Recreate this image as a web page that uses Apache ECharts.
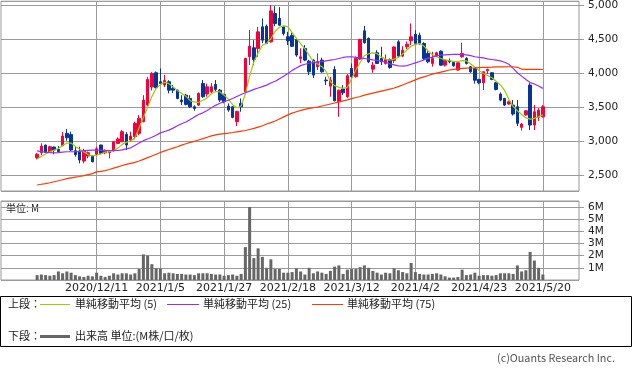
<!DOCTYPE html>
<html><head><meta charset="utf-8">
<script src="https://cdn.jsdelivr.net/npm/echarts@6/dist/echarts.min.js"></script>
<style>html,body{margin:0;padding:0;background:#fff;}#c{width:633px;height:372px;}</style>
</head><body><div id="c"></div>
<script>
const dates = ['2020/11/20','2020/11/24','2020/11/25','2020/11/26','2020/11/27','2020/11/30','2020/12/1','2020/12/2','2020/12/3','2020/12/4','2020/12/7','2020/12/8','2020/12/9','2020/12/10','2020/12/11','2020/12/14','2020/12/15','2020/12/16','2020/12/17','2020/12/18','2020/12/21','2020/12/22','2020/12/23','2020/12/24','2020/12/25','2020/12/28','2020/12/29','2020/12/30','2021/1/4','2021/1/5','2021/1/6','2021/1/7','2021/1/8','2021/1/12','2021/1/13','2021/1/14','2021/1/15','2021/1/18','2021/1/19','2021/1/20','2021/1/21','2021/1/22','2021/1/25','2021/1/26','2021/1/27','2021/1/28','2021/1/29','2021/2/1','2021/2/2','2021/2/3','2021/2/4','2021/2/5','2021/2/8','2021/2/9','2021/2/10','2021/2/12','2021/2/15','2021/2/16','2021/2/17','2021/2/18','2021/2/19','2021/2/22','2021/2/24','2021/2/25','2021/2/26','2021/3/1','2021/3/2','2021/3/3','2021/3/4','2021/3/5','2021/3/8','2021/3/9','2021/3/10','2021/3/11','2021/3/12','2021/3/15','2021/3/16','2021/3/17','2021/3/18','2021/3/19','2021/3/22','2021/3/23','2021/3/24','2021/3/25','2021/3/26','2021/3/29','2021/3/30','2021/3/31','2021/4/1','2021/4/2','2021/4/5','2021/4/6','2021/4/7','2021/4/8','2021/4/9','2021/4/12','2021/4/13','2021/4/14','2021/4/15','2021/4/16','2021/4/19','2021/4/20','2021/4/21','2021/4/22','2021/4/23','2021/4/26','2021/4/27','2021/4/28','2021/4/30','2021/5/6','2021/5/7','2021/5/10','2021/5/11','2021/5/12','2021/5/13','2021/5/14','2021/5/17','2021/5/18','2021/5/19','2021/5/20'];

const tickDates = ['2020/12/11','2021/1/5','2021/1/27','2021/2/18','2021/3/12','2021/4/2','2021/4/23','2021/5/20'];

const openP = [2760,2832,2946,2838,2916,2880,2935,3118,3099,2862,
 2857,2710,2784,2784,2809,2946,2832,2832,2862,2970,
 2994,3103,3019,3069,3118,3289,3534,3800,4010,3877,
 3830,3877,3779,3754,3608,3680,3632,3509,3534,3853,
 3696,3730,3838,3754,3691,3519,3509,3289,3559,3730,
 4245,4377,4368,4686,4696,4466,4882,4809,4686,4539,
 4560,4500,4221,4368,4181,4196,4098,4196,3902,3813,
 4059,3583,3769,3657,4074,3951,4211,4627,4515,4063,
 4304,4221,4147,4206,4190,4465,4255,4392,4480,4578,
 4563,4441,4294,4147,4255,4328,4122,4190,4162,4049,
 4245,4221,4098,4074,3912,3862,4039,4010,3862,3696,
 3632,3549,3534,3509,3206,3387,3828,3240,3353,3362];

const closeP = [2810,2931,2838,2921,2872,2850,3078,3053,2872,2803,
 2725,2857,2832,2700,2891,2823,2862,2857,2994,3034,
 3142,2946,3078,3265,3338,3608,3912,4000,3790,3853,
 3895,3754,3754,3632,3583,3544,3509,3485,3706,3657,
 3804,3804,3765,3608,3583,3460,3353,3441,3509,4221,
 4402,4206,4612,4490,4441,4921,4735,4710,4588,4480,
 4400,4270,4245,4196,4024,3975,4171,4024,3892,3902,
 3597,3754,3715,3966,3951,4221,4500,4451,4171,4122,
 4147,4171,4206,4088,4390,4255,4343,4431,4539,4441,
 4441,4221,4171,4221,4304,4122,4196,4170,4112,4156,
 4294,4147,4024,3900,3862,4024,4059,3912,3765,3608,
 3534,3583,3402,3265,3255,3450,3240,3436,3460,3509];

const lowP = [2735,2799,2830,2830,2810,2832,2930,3010,2860,2774,
 2676,2676,2750,2690,2800,2810,2810,2750,2850,2960,
 2990,2872,2990,3029,3090,3280,3520,3750,3780,3828,
 3800,3706,3710,3620,3534,3530,3490,3450,3520,3640,
 3657,3710,3740,3580,3560,3436,3340,3225,3436,3720,
 4122,4122,4245,4446,4430,4450,4696,4700,4560,4417,
 4390,4245,4150,4180,3975,3931,4050,4010,3828,3657,
 3590,3362,3680,3640,3940,3940,4200,4440,4152,4010,
 4140,4122,4130,4070,4150,4240,4240,4360,4417,4430,
 4420,4196,4150,4100,4240,4110,4100,4150,4100,4040,
 4230,4130,4010,3850,3840,3754,3990,3900,3750,3590,
 3520,3540,3380,3225,3160,3380,3166,3166,3300,3350];

const highP = [2828,2970,2950,2935,2925,2931,3137,3181,3142,2921,
 2921,2891,2850,2800,2921,2950,2880,2870,3000,3059,
 3166,3137,3142,3289,3387,3680,3950,4019,4030,4074,
 3980,3900,3830,3760,3680,3700,3680,3530,3720,3902,
 3850,3857,3902,3770,3700,3559,3520,3450,3632,4230,
 4637,4490,4686,4809,4720,5004,4990,4975,4700,4612,
 4600,4520,4370,4417,4200,4210,4294,4230,3951,3950,
 4107,3760,3828,3990,4147,4250,4510,4700,4530,4170,
 4343,4392,4280,4220,4400,4490,4400,4470,4735,4637,
 4600,4460,4330,4318,4320,4340,4210,4220,4180,4170,
 4451,4240,4110,4080,3920,4030,4070,4020,3870,3720,
 3640,3600,3608,3608,3270,3460,3857,3534,3490,3534];

const ma5 = [2740,2780,2815,2845,2870,2895,2940,2975,2975,2925,
 2885,2845,2805,2785,2795,2815,2840,2848,2865,2900,
 2955,2985,3005,3050,3200,3350,3500,3660,3780,3835,
 3870,3850,3800,3750,3705,3665,3600,3580,3575,3605,
 3640,3700,3735,3730,3680,3620,3540,3495,3520,3700,
 3960,4170,4300,4415,4445,4510,4620,4680,4700,4690,
 4600,4515,4440,4360,4270,4175,4140,4100,4030,3880,
 3820,3795,3780,3795,3920,4050,4160,4260,4290,4302,
 4290,4240,4210,4196,4210,4235,4285,4345,4400,4428,
 4440,4405,4330,4275,4245,4220,4200,4188,4178,4175,
 4188,4185,4140,4095,4045,4000,3970,3935,3885,3830,
 3750,3620,3515,3450,3395,3345,3328,3338,3362,3390];

const ma25 = [2860,2850,2840,2832,2830,2835,2842,2847,2847,2848,
 2852,2862,2868,2870,2870,2870,2868,2865,2862,2865,
 2875,2890,2905,2940,2975,3010,3035,3060,3090,3125,
 3145,3165,3195,3230,3260,3285,3320,3360,3395,3420,
 3455,3495,3530,3560,3585,3605,3630,3660,3690,3715,
 3740,3765,3785,3805,3828,3860,3885,3920,3960,4000,
 4045,4080,4115,4135,4150,4160,4170,4175,4185,4195,
 4205,4220,4235,4245,4245,4235,4228,4220,4210,4200,
 4192,4180,4165,4140,4125,4110,4107,4115,4135,4155,
 4175,4200,4225,4240,4258,4268,4273,4277,4280,4282,
 4280,4272,4262,4245,4235,4228,4215,4205,4195,4185,
 4165,4135,4075,4010,3960,3910,3865,3845,3815,3780];

const ma75 = [2357,2368,2378,2390,2405,2420,2435,2450,2462,2472,
 2482,2495,2510,2525,2550,2558,2568,2585,2605,2625,
 2645,2660,2675,2690,2710,2735,2760,2785,2810,2835,
 2860,2880,2900,2920,2945,2965,2985,3000,3020,3040,
 3060,3080,3095,3105,3115,3122,3130,3140,3150,3160,
 3175,3190,3210,3230,3255,3275,3300,3330,3360,3390,
 3415,3435,3455,3470,3485,3495,3505,3520,3535,3550,
 3565,3580,3595,3610,3630,3645,3660,3680,3695,3710,
 3725,3740,3755,3770,3785,3805,3830,3855,3880,3905,
 3930,3950,3970,3990,4005,4020,4035,4050,4060,4068,
 4075,4078,4080,4082,4085,4088,4090,4092,4095,4096,
 4097,4098,4098,4090,4062,4060,4060,4059,4059,4058];

const volumeM = [0.40,0.45,0.40,0.35,0.40,0.70,0.55,0.70,0.60,0.40,
 0.30,0.25,0.35,0.30,0.60,0.35,0.25,0.35,0.55,0.45,
 0.55,0.55,0.45,0.55,0.90,2.10,2.00,1.30,0.95,0.95,
 0.55,0.60,0.55,0.50,0.50,0.45,0.45,0.40,0.55,0.55,
 0.55,0.50,0.45,0.45,0.35,0.40,0.45,0.35,0.50,2.70,
 6.00,1.80,2.60,1.90,1.00,1.70,0.90,0.90,0.60,0.60,
 0.65,0.95,0.70,0.45,1.00,0.55,0.70,0.60,0.50,0.75,
 1.10,1.20,0.50,0.85,0.90,0.90,1.05,1.20,1.00,0.75,
 0.60,0.45,0.60,0.55,0.95,0.80,0.65,0.55,1.40,0.65,
 0.50,0.45,0.45,0.50,0.55,0.45,0.30,0.20,0.20,0.25,
 0.85,0.40,0.45,0.60,0.35,0.40,0.40,0.35,0.40,0.55,
 0.55,0.55,0.50,1.20,0.70,0.80,2.30,1.60,1.00,0.45];

// empty category slots on each side of the data
const PAD = 8;
const cats = [];
for (let i = 0; i < PAD; i++) cats.push('pre' + i);
dates.forEach(d => cats.push(d));
for (let i = 0; i < PAD; i++) cats.push('post' + i);

const tickSet = new Set(tickDates);
const isTick = (idx) => tickSet.has(cats[idx]);

const UP = '#f5003a', DOWN = '#07349a', GRID = '#9a9a9a';
const C5 = '#9acd00', C25 = '#9a2cf5', C75 = '#ff3a00';
const candle = dates.map((d, i) => [i + PAD, openP[i], closeP[i], lowP[i], highP[i]]);
const line = arr => arr.map((v, i) => [i + PAD, v]);
const vol = volumeM.map((v, i) => [i + PAD, v]);

const chart = echarts.init(document.getElementById('c'), null, {renderer: 'canvas'});
const xBase = {
  type: 'category', data: cats, boundaryGap: true,
  axisLine: {show: false}, axisTick: {show: false},
  splitLine: {show: true, alignWithLabel: true, interval: (i) => isTick(i), lineStyle: {color: GRID, width: 1}}
};
const yLabel = {color: '#222', fontFamily: 'DejaVu Sans', fontSize: 10.5, margin: 9};
const jp = 'Noto Sans CJK JP';
chart.setOption({
  animation: false,
  grid: [
    {left: 1, top: 1, width: 578, height: 190, show: true, borderColor: GRID, borderWidth: 1, backgroundColor: 'transparent'},
    {left: 1, top: 201, width: 578, height: 79, show: true, borderColor: GRID, borderWidth: 1, backgroundColor: 'transparent'}
  ],
  xAxis: [
    Object.assign({}, xBase, {gridIndex: 0, axisLabel: {show: false}}),
    Object.assign({}, xBase, {gridIndex: 1, axisLabel: {show: true, interval: (i) => isTick(i), color: '#222', fontFamily: 'DejaVu Sans', fontSize: 11, margin: 3}})
  ],
  yAxis: [
    {type: 'value', gridIndex: 0, position: 'right', min: 2269, max: 5063, scale: true,
     axisLine: {show: false}, axisTick: {show: true, length: 5, lineStyle: {color: GRID}},
     splitLine: {show: true, lineStyle: {color: GRID, width: 1}},
     axisLabel: Object.assign({}, yLabel, {showMinLabel: false, showMaxLabel: false,
       formatter: v => (v % 500 === 0 ? v.toLocaleString('en-US') : '')})},
    {type: 'value', gridIndex: 1, position: 'right', min: 0, max: 6.49, interval: 1,
     axisLine: {show: false}, axisTick: {show: true, length: 5, lineStyle: {color: GRID}},
     splitLine: {show: true, lineStyle: {color: GRID, width: 1}},
     axisLabel: Object.assign({}, yLabel, {showMinLabel: false, showMaxLabel: false,
       formatter: v => (Number.isInteger(v) && v >= 1 && v <= 6 ? v + 'M' : '')})}
  ],
  series: [
    {type: 'candlestick', xAxisIndex: 0, yAxisIndex: 0, data: candle, encode: {x: 0, y: [1, 2, 3, 4]},
     barWidth: 3, z: 3,
     itemStyle: {color: UP, color0: DOWN, borderColor: UP, borderColor0: DOWN, borderWidth: 1}},
    {type: 'line', name: 'MA5', xAxisIndex: 0, yAxisIndex: 0, data: line(ma5), showSymbol: false, z: 4,
     lineStyle: {color: C5, width: 1.2}},
    {type: 'line', name: 'MA25', xAxisIndex: 0, yAxisIndex: 0, data: line(ma25), showSymbol: false, z: 4,
     lineStyle: {color: C25, width: 1.2}},
    {type: 'line', name: 'MA75', xAxisIndex: 0, yAxisIndex: 0, data: line(ma75), showSymbol: false, z: 4,
     lineStyle: {color: C75, width: 1.2}},
    {type: 'bar', xAxisIndex: 1, yAxisIndex: 1, data: vol, barWidth: 3, itemStyle: {color: '#666666'}}
  ],
  graphic: [
    {type: 'text', left: 6, top: 203, style: {text: '単位: M', fontFamily: jp, fontSize: 10, fill: '#222'}},
    {type: 'rect', shape: {x: 0.5, y: 296.5, width: 631, height: 50}, style: {fill: 'none', stroke: '#000', lineWidth: 1}},
    {type: 'text', x: 8, y: 304, style: {text: '上段：', fontFamily: jp, fontSize: 11, fill: '#222', verticalAlign: 'middle'}},
    {type: 'line', shape: {x1: 40, y1: 304.5, x2: 70, y2: 304.5}, style: {stroke: C5, lineWidth: 1}},
    {type: 'text', x: 75, y: 304, style: {text: '単純移動平均 (5)', fontFamily: jp, fontSize: 11, fill: '#222', verticalAlign: 'middle'}},
    {type: 'line', shape: {x1: 167, y1: 304.5, x2: 199, y2: 304.5}, style: {stroke: C25, lineWidth: 1}},
    {type: 'text', x: 203, y: 304, style: {text: '単純移動平均 (25)', fontFamily: jp, fontSize: 11, fill: '#222', verticalAlign: 'middle'}},
    {type: 'line', shape: {x1: 312, y1: 304.5, x2: 343, y2: 304.5}, style: {stroke: C75, lineWidth: 1}},
    {type: 'text', x: 347, y: 304, style: {text: '単純移動平均 (75)', fontFamily: jp, fontSize: 11, fill: '#222', verticalAlign: 'middle'}},
    {type: 'text', x: 8, y: 336, style: {text: '下段：', fontFamily: jp, fontSize: 11, fill: '#222', verticalAlign: 'middle'}},
    {type: 'line', shape: {x1: 40, y1: 336.5, x2: 70, y2: 336.5}, style: {stroke: '#666666', lineWidth: 3}},
    {type: 'text', x: 75, y: 336, style: {text: '出来高 単位:(M株/口/枚)', fontFamily: jp, fontSize: 11, fill: '#222', verticalAlign: 'middle'}},
    {type: 'text', x: 497, y: 358, style: {text: '(c)Ouants Research Inc.', fontFamily: jp, fontSize: 10.8, fill: '#555', verticalAlign: 'middle'}}
  ]
});
</script></body></html>
